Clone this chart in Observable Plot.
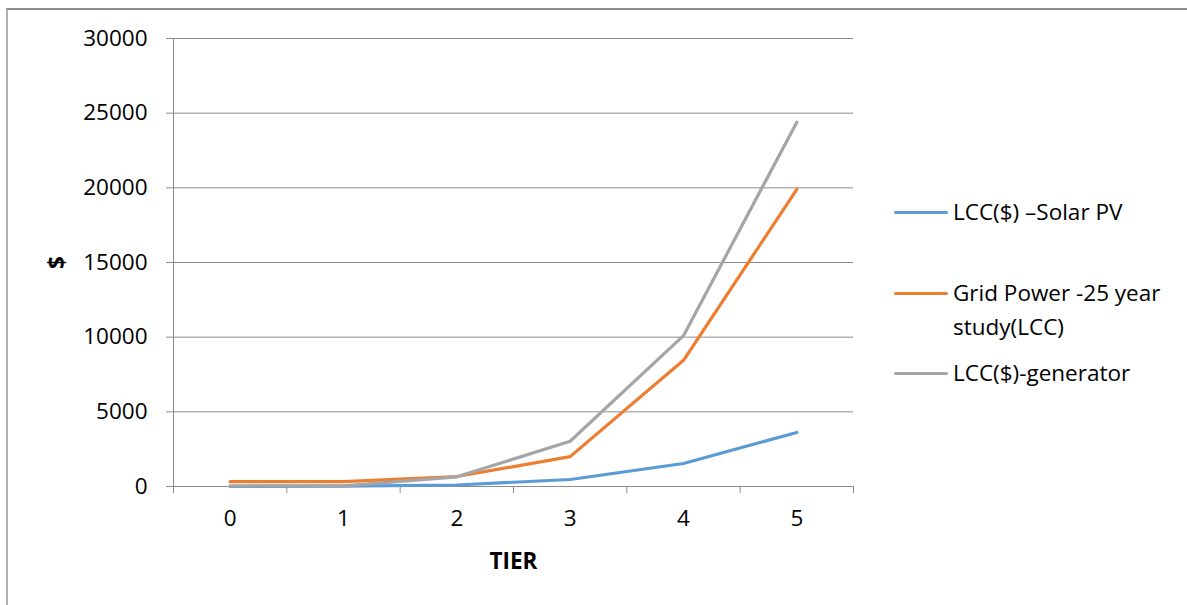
<!DOCTYPE html>
<html>
<head>
<meta charset="utf-8">
<script src="https://cdn.jsdelivr.net/npm/d3@7"></script>
<script src="https://cdn.jsdelivr.net/npm/@observablehq/plot@0.6"></script>
<style>
  html, body { margin: 0; padding: 0; background: #fff; }
  #wrap { position: relative; width: 1187px; height: 605px; overflow: hidden; font-family: "Open Sans", sans-serif; }
  #frame { position: absolute; left: 6px; top: 8px; right: 0; bottom: 0; border-left: 2px solid #b0b0b0; border-top: 2px solid #8c8c8c; }
  #chart { position: absolute; left: 0; top: 0; }
  #chart svg g[aria-label="y-axis label"] text,
  #chart svg g[aria-label="x-axis label"] text { font-weight: bold; }
  .legend-item { position: absolute; left: 894px; font-size: 22.5px; line-height: 34px; color: #000; white-space: nowrap; }
  .legend-item .sw { position: absolute; left: 0; top: 15.5px; width: 54px; height: 3px; border-radius: 1.5px; }
  .legend-item .tx { position: absolute; left: 59px; top: 0; }
</style>
</head>
<body>
<div id="wrap">
  <div id="frame"></div>
  <div id="chart"></div>
  <div id="legend"></div>
</div>
<script>
const tiers = [0, 1, 2, 3, 4, 5];
const seriesNames = ["LCC($) –Solar PV", "Grid Power -25 year study(LCC)", "LCC($)-generator"];
const legendLabels = [["LCC($) –Solar PV"], ["Grid Power -25 year", "study(LCC)"], ["LCC($)-generator"]];
const solarPV = [0, 20, 100, 470, 1540, 3620];
const gridPower = [330, 330, 670, 2000, 8450, 19900];
const generator = [40, 40, 650, 3030, 10100, 24400];
const seriesColors = ["#5b9bd5", "#ed7d31", "#a5a5a5"];
const yTicks = [0, 5000, 10000, 15000, 20000, 25000, 30000];
const xBoundaries = [-0.5, 0.5, 1.5, 2.5, 3.5, 4.5, 5.5];

const seriesValues = [solarPV, gridPower, generator];
const data = [];
seriesValues.forEach((vals, si) => {
  tiers.forEach((t, i) => data.push({series: seriesNames[si], tier: t, value: vals[i]}));
});

const axisColor = "#8c8c8c";

const chart = Plot.plot({
  width: 1187,
  height: 605,
  marginLeft: 173,
  marginRight: 334,
  marginTop: 38,
  marginBottom: 119,
  style: {fontFamily: "Open Sans, sans-serif", fontSize: "22.5px", color: "#000", background: "transparent", overflow: "visible"},
  x: {domain: [-0.5, 5.5]},
  y: {domain: [0, 30000]},
  color: {domain: seriesNames, range: seriesColors},
  marks: [
    Plot.gridY(yTicks, {stroke: axisColor, strokeOpacity: 1, strokeWidth: 1}),
    Plot.ruleX([-0.5], {stroke: axisColor, strokeWidth: 1}),
    Plot.ruleY([0], {stroke: axisColor, strokeWidth: 1}),
    Plot.axisY({ticks: yTicks, tickSize: 7, tickPadding: 19, stroke: axisColor, fill: "#000",
      tickFormat: d => String(d),
      label: "$", labelAnchor: "center", labelArrow: "none", labelOffset: 124}),
    Plot.axisX({ticks: xBoundaries, tickSize: 7, stroke: axisColor, tickFormat: () => "", label: null}),
    Plot.axisX({ticks: tiers, tickSize: 0, tickPadding: 24, fill: "#000", tickFormat: d => String(d),
      label: "TIER", labelAnchor: "center", labelArrow: "none", labelOffset: 82}),
    Plot.line(data, {x: "tier", y: "value", z: "series", stroke: "series", strokeWidth: 3.2,
      strokeLinecap: "round", strokeLinejoin: "round"})
  ]
});
document.getElementById("chart").appendChild(chart);

const legend = document.getElementById("legend");
const tops = [195, 276, 356];
legendLabels.forEach((lines, i) => {
  const item = document.createElement("div");
  item.className = "legend-item";
  item.style.top = tops[i] + "px";
  const sw = document.createElement("span");
  sw.className = "sw";
  sw.style.background = seriesColors[i];
  const tx = document.createElement("span");
  tx.className = "tx";
  tx.innerHTML = lines.join("<br>");
  item.appendChild(sw);
  item.appendChild(tx);
  legend.appendChild(item);
});
</script>
</body>
</html>
